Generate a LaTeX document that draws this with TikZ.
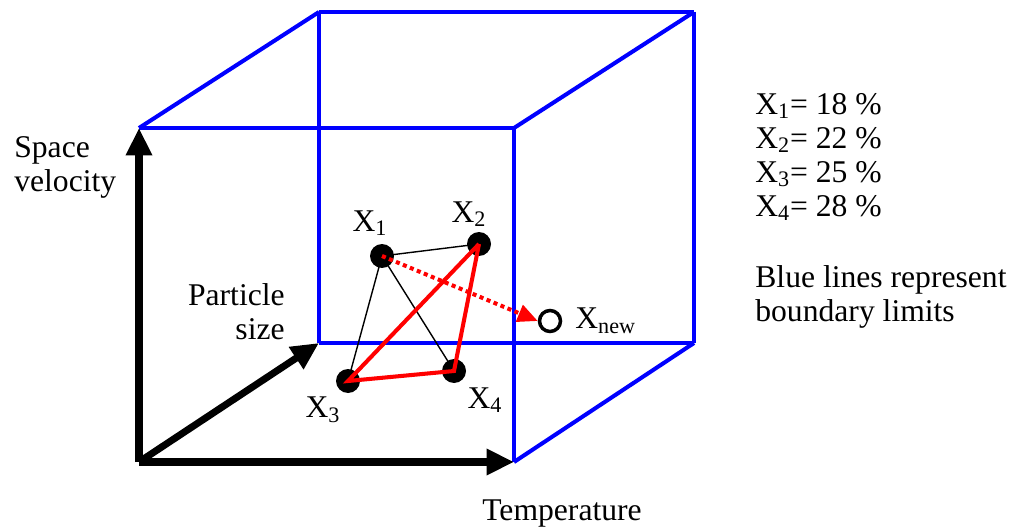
\documentclass[tikz,border=0pt]{standalone}
\usepackage{fontspec}
\setmainfont{Liberation Serif}
\usetikzlibrary{arrows.meta}
\tikzset{
  lbl/.style={font=\fontsize{18}{19.3}\selectfont, inner sep=0pt},
  pt/.style={circle, fill=black, minimum size=0.48cm, inner sep=0pt},
  bound/.style={draw=blue, line width=2.3pt},
  axis/.style={line width=4pt, -{Triangle[length=0.55cm,width=0.5cm]}},
}
\begin{document}
\begin{tikzpicture}[x=0.02cm, y=-0.02cm]
			\useasboundingbox (0,0) rectangle (1013,530);
			% cube corners
			\coordinate (o) at (139,462);
			\coordinate (fa) at (139,128);
			\coordinate (fb) at (514,128);
			\coordinate (fc) at (514,462);
			\coordinate (ba) at (319,12);
			\coordinate (bb) at (694,12);
			\coordinate (bc) at (694,343);
			\coordinate (bd) at (319,343);
			\draw [bound] (fa) to (fb);
			\draw [bound] (fb) to (fc);
			\draw [bound] (ba) to (bb);
			\draw [bound] (bb) to (bc);
			\draw [bound] (bc) to (bd);
			\draw [bound] (bd) to (ba);
			\draw [bound] (fa) to (ba);
			\draw [bound] (fb) to (bb);
			\draw [bound] (fc) to (bc);
			% axes
			\draw [axis] (o) to (fa);
			\draw [axis] (o) to (fc);
			\draw [axis] (o) to (bd);
			% points
			\coordinate (c1) at (382,256);
			\coordinate (c2) at (479,244);
			\coordinate (c3) at (348,381);
			\coordinate (c4) at (454,371);
			\draw [-, line width=0.8pt] (c1) to (c2);
			\draw [-, line width=0.8pt] (c1) to (c3);
			\draw [-, line width=0.8pt] (c1) to (c4);
			\node [pt] (x1) at (c1) {};
			\node [pt] (x2) at (c2) {};
			\node [pt] (x3) at (c3) {};
			\node [pt] (x4) at (c4) {};
			\node [circle, draw=black, fill=white, line width=2pt, minimum size=0.42cm, inner sep=0pt] (xn) at (550,321) {};
			\draw [-, red, line width=2.3pt, line join=miter] (x2.center) to (x3.center) to (x4.center) to (x2.center);
			\draw [red, line width=2.3pt, dotted, -{Triangle[length=0.4cm,width=0.35cm]}] (x1.center) to (xn.west);
			% labels
			\node [lbl] (l1) at (370,223) {X\textsubscript{1}};
			\node [lbl] (l2) at (469,214) {X\textsubscript{2}};
			\node [lbl] (l3) at (323,410) {X\textsubscript{3}};
			\node [lbl] (l4) at (485,400) {X\textsubscript{4}};
			\node [lbl, anchor=west] (ln) at (575,321) {X\textsubscript{new}};
			\node [lbl, anchor=west, align=left] (sv) at (14,167) {Space\\velocity};
			\node [lbl, anchor=east, align=right] (ps) at (285,312) {Particle\\size};
			\node [lbl] (tp) at (562,514) {Temperature};
			\node [lbl, anchor=north west, align=left] (vals) at (755,93) {X\textsubscript{1}= 18 \%\\X\textsubscript{2}= 22 \%\\X\textsubscript{3}= 25 \%\\X\textsubscript{4}= 28 \%};
			\node [lbl, anchor=north west, align=left] (note) at (755,265) {Blue lines represent\\boundary limits};
		\end{tikzpicture}
\end{document}
